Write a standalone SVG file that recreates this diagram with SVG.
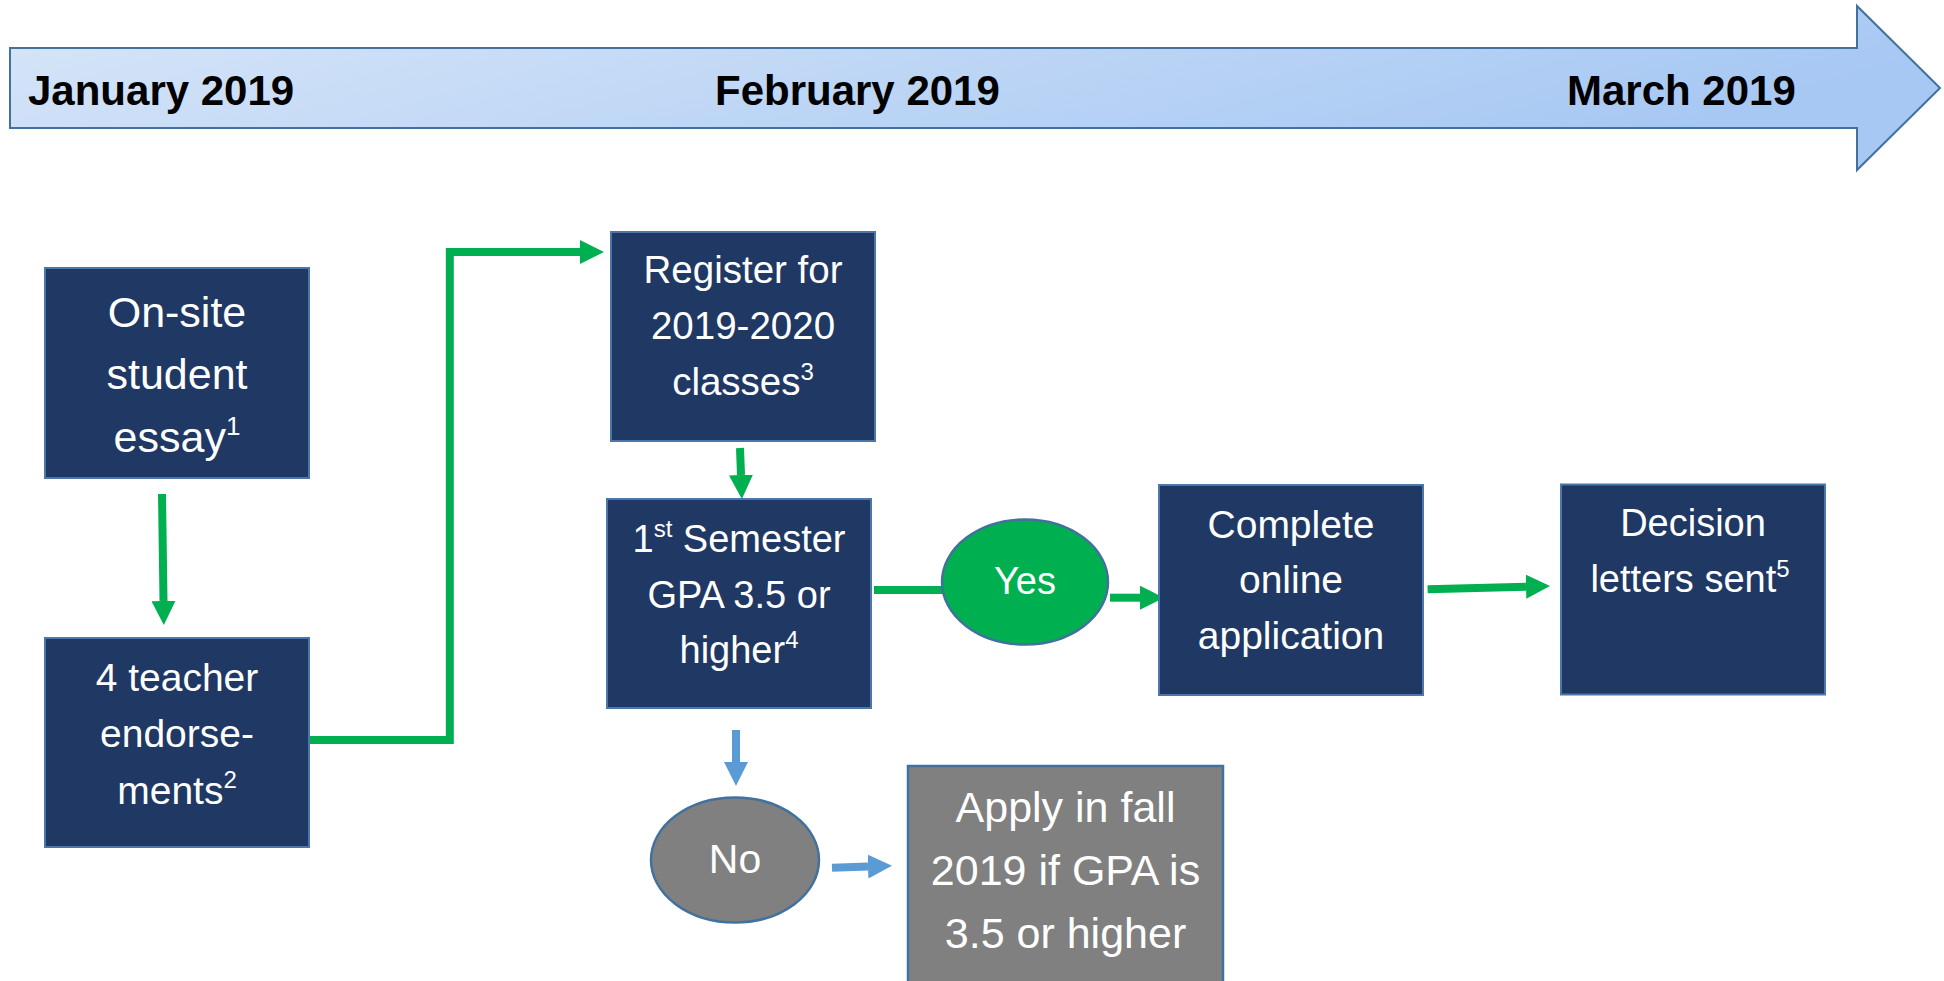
<svg xmlns="http://www.w3.org/2000/svg" width="1944" height="981" viewBox="0 0 1944 981">
  <style>
    .box { fill: #203864; stroke: #4a78aa; stroke-width: 2; }
    .gray { fill: #808080; stroke: #41719c; stroke-width: 2.5; }
    .yes { fill: #00b050; stroke: #41719c; stroke-width: 2.5; }
    .t { font-family: "Liberation Sans", Arial, sans-serif; fill: #ffffff; text-anchor: middle; }
    .tl { font-family: "Liberation Sans", Arial, sans-serif; font-weight: bold; font-size: 42px; fill: #000000; }
    .g { fill: none; stroke: #00b050; stroke-width: 8; }
    .b { fill: none; stroke: #5b9bd5; stroke-width: 8; }
  </style>
  <defs>
    <linearGradient id="tlg" x1="0" y1="0" x2="1" y2="0.3">
      <stop offset="0" stop-color="#d8e6f8"/>
      <stop offset="1" stop-color="#a7c8f3"/>
    </linearGradient>
    <marker id="ag" viewBox="0 0 10 10" refX="0" refY="5" markerWidth="3" markerHeight="3" orient="auto" markerUnits="strokeWidth">
      <path d="M0,0 L10,5 L0,10 Z" fill="#00b050"/>
    </marker>
    <marker id="ab" viewBox="0 0 10 10" refX="0" refY="5" markerWidth="3" markerHeight="3" orient="auto" markerUnits="strokeWidth">
      <path d="M0,0 L10,5 L0,10 Z" fill="#5b9bd5"/>
    </marker>
  </defs>

  <g id="timeline">
    <path d="M10,48 L1857,48 L1857,6 L1940,88 L1857,170 L1857,128 L10,128 Z" fill="url(#tlg)" stroke="#41719c" stroke-width="2"/>
    <text class="tl" x="28" y="105">January 2019</text>
    <text class="tl" x="715" y="105">February 2019</text>
    <text class="tl" x="1567" y="105">March 2019</text>
  </g>

  <g id="connectors">
    <path class="g" d="M162,494 L163.5,601" marker-end="url(#ag)"/>
    <path class="g" d="M309,740 H449.8 V252 H580" marker-end="url(#ag)"/>
    <path class="g" d="M740,448 L741,475" marker-end="url(#ag)"/>
    <path class="g" d="M874,590 H943"/>
    <path class="g" d="M1110,597.7 H1140" marker-end="url(#ag)"/>
    <path class="g" d="M1427.6,589.3 L1526,586.7" marker-end="url(#ag)"/>
    <path class="b" d="M736,730 V762" marker-end="url(#ab)"/>
    <path class="b" d="M832,867.7 L868,866.5" marker-end="url(#ab)"/>
  </g>

  <g id="node-essay">
    <rect class="box" x="45" y="268" width="264" height="210"/>
    <text class="t" font-size="43" x="177" y="327">On-site</text>
    <text class="t" font-size="43" x="177" y="389">student</text>
    <text class="t" font-size="43" x="177" y="452">essay<tspan font-size="26" dy="-17">1</tspan></text>
  </g>

  <g id="node-endorsements">
    <rect class="box" x="45" y="638" width="264" height="209"/>
    <text class="t" font-size="39" x="177" y="691">4 teacher</text>
    <text class="t" font-size="39" x="177" y="747">endorse-</text>
    <text class="t" font-size="39" x="177" y="804">ments<tspan font-size="24" dy="-16">2</tspan></text>
  </g>

  <g id="node-register">
    <rect class="box" x="611" y="232" width="264" height="209"/>
    <text class="t" font-size="38.5" x="743" y="283">Register for</text>
    <text class="t" font-size="38.5" x="743" y="339">2019-2020</text>
    <text class="t" font-size="38.5" x="743" y="395">classes<tspan font-size="24" dy="-15">3</tspan></text>
  </g>

  <g id="node-gpa">
    <rect class="box" x="607" y="499" width="264" height="209"/>
    <text class="t" font-size="38" x="739" y="552">1<tspan font-size="24" dy="-15">st</tspan><tspan dy="15"> Semester</tspan></text>
    <text class="t" font-size="38" x="739" y="608">GPA 3.5 or</text>
    <text class="t" font-size="38" x="739" y="663">higher<tspan font-size="24" dy="-15">4</tspan></text>
  </g>

  <g id="node-yes">
    <ellipse class="yes" cx="1025" cy="582" rx="83" ry="62.5"/>
    <text class="t" font-size="38" x="1025" y="594">Yes</text>
  </g>

  <g id="node-complete">
    <rect class="box" x="1159" y="485" width="264" height="210"/>
    <text class="t" font-size="39" x="1291" y="538">Complete</text>
    <text class="t" font-size="39" x="1291" y="593">online</text>
    <text class="t" font-size="39" x="1291" y="649">application</text>
  </g>

  <g id="node-decision">
    <rect class="box" x="1561" y="484.5" width="264" height="210"/>
    <text class="t" font-size="38" x="1693" y="536">Decision</text>
    <text class="t" font-size="38" x="1690" y="592">letters sent<tspan font-size="24" dy="-15">5</tspan></text>
  </g>

  <g id="node-no">
    <ellipse class="gray" cx="735" cy="860" rx="84" ry="62.5"/>
    <text class="t" font-size="41" x="735" y="873">No</text>
  </g>

  <g id="node-apply">
    <rect class="gray" x="908" y="766" width="315" height="230"/>
    <text class="t" font-size="43" x="1065.5" y="822">Apply in fall</text>
    <text class="t" font-size="43" x="1065.5" y="885">2019 if GPA is</text>
    <text class="t" font-size="43" x="1065.5" y="948">3.5 or higher</text>
  </g>
</svg>
